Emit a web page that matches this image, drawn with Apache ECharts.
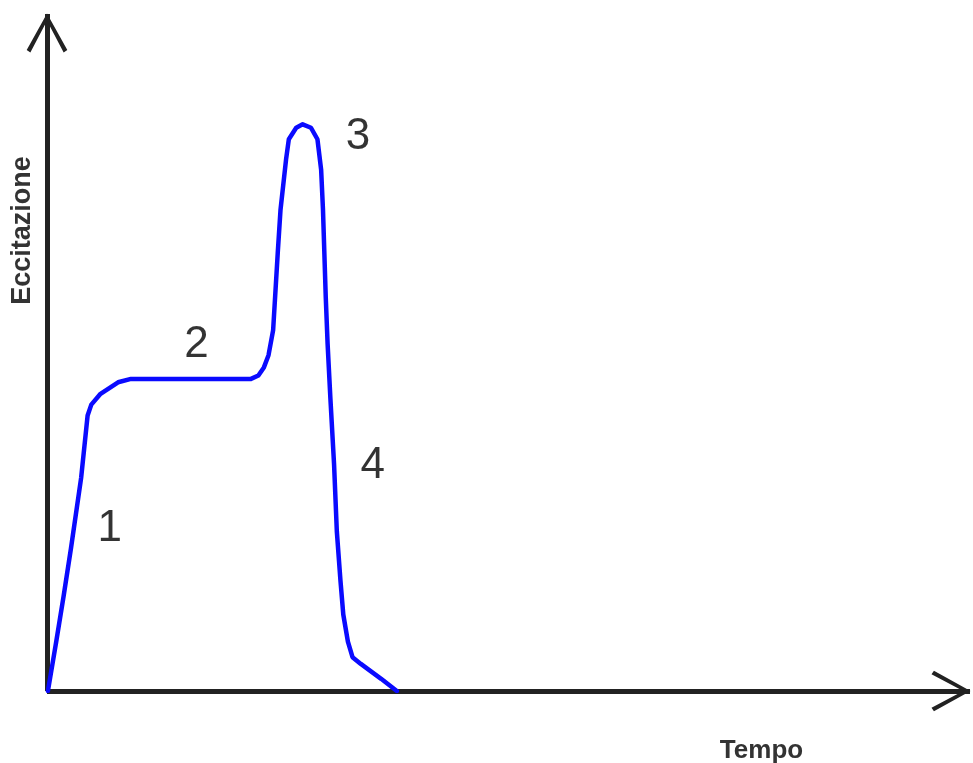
<!DOCTYPE html>
<html>
<head>
<meta charset="utf-8">
<script src="https://cdn.jsdelivr.net/npm/echarts@6/dist/echarts.min.js"></script>
<style>
html,body{margin:0;padding:0;background:#fff;}
#main{width:973px;height:763px;}
</style>
</head>
<body>
<div id="main"></div>
<script>
// Curve (time, excitation), both in arbitrary 0-100 units
const tempo = [0.1, 1.0, 1.8, 2.6, 3.7, 4.4, 4.8, 5.8, 7.7, 9.1, 22.1, 22.9, 23.5, 24.0, 24.5, 25.0, 25.3, 25.9, 26.2, 27.0, 27.7, 28.6, 29.3, 29.7, 29.9, 30.2, 30.4, 30.7, 31.1, 31.4, 31.8, 32.1, 32.6, 33.1, 34.0, 36.2, 37.9];
const eccitazione = [0, 7.3, 14.0, 21.1, 31.5, 40.7, 42.3, 43.9, 45.6, 46.1, 46.1, 46.6, 47.8, 49.6, 53.3, 64.7, 71.1, 78.5, 81.5, 83.2, 83.7, 83.2, 81.5, 77.0, 71.1, 58.2, 51.3, 43.3, 33.5, 23.6, 16.2, 11.3, 7.3, 5.0, 4.0, 1.8, 0];

// Phase annotations
const faseEtichette = ['1', '2', '3', '4'];
const faseX = [6.8, 16.2, 33.7, 35.3];
const faseY = [24.0, 51.2, 81.8, 33.2];

const xName = 'Tempo';
const yName = 'Eccitazione';

const chevron = 'path://M50 0 L100 90 L91 96 L50 18 L9 96 L0 90 Z';

const chart = echarts.init(document.getElementById('main'), null, {renderer: 'canvas'});
const axisCommon = {
  type: 'value',
  min: 0,
  max: 100,
  axisTick: {show: false},
  axisLabel: {show: false},
  splitLine: {show: false},
  axisLine: {
    show: true,
    onZero: false,
    symbol: ['none', chevron],
    symbolSize: [46, 39],
    symbolOffset: [0, -19],
    lineStyle: {color: '#222', width: 5, cap: 'butt'}
  }
};
chart.setOption({
  backgroundColor: '#ffffff',
  animation: false,
  grid: {left: 47, right: 3, top: 14, bottom: 72, containLabel: false, outerBoundsMode: 'none'},
  xAxis: Object.assign({}, axisCommon, {
    name: xName,
    nameLocation: 'middle',
    nameGap: 47,
    nameTextStyle: {fontFamily: 'Liberation Sans', fontWeight: 'bold', fontSize: 26, color: '#333', padding: [0, 0, 0, 506]}
  }),
  yAxis: Object.assign({}, axisCommon, {
    name: yName,
    nameLocation: 'middle',
    nameRotate: 90,
    nameGap: 11,
    nameTextStyle: {fontFamily: 'Liberation Sans', fontWeight: 'bold', fontSize: 27, color: '#333', padding: [0, 0, 0, 244]}
  }),
  series: [
    {
      type: 'line',
      data: tempo.map((t, i) => [t, eccitazione[i]]),
      showSymbol: false,
      symbol: 'none',
      smooth: false,
      lineStyle: {color: '#0a0aff', width: 4.5, join: 'round', cap: 'round'},
      z: 3
    },
    {
      type: 'scatter',
      data: faseEtichette.map((l, i) => ({name: l, value: [faseX[i], faseY[i]]})),
      symbolSize: 0,
      label: {
        show: true,
        position: 'inside',
        formatter: p => p.name,
        fontFamily: 'Liberation Sans',
        fontSize: 44,
        color: '#000'
      },
      z: 4
    }
  ]
});
</script>
</body>
</html>
